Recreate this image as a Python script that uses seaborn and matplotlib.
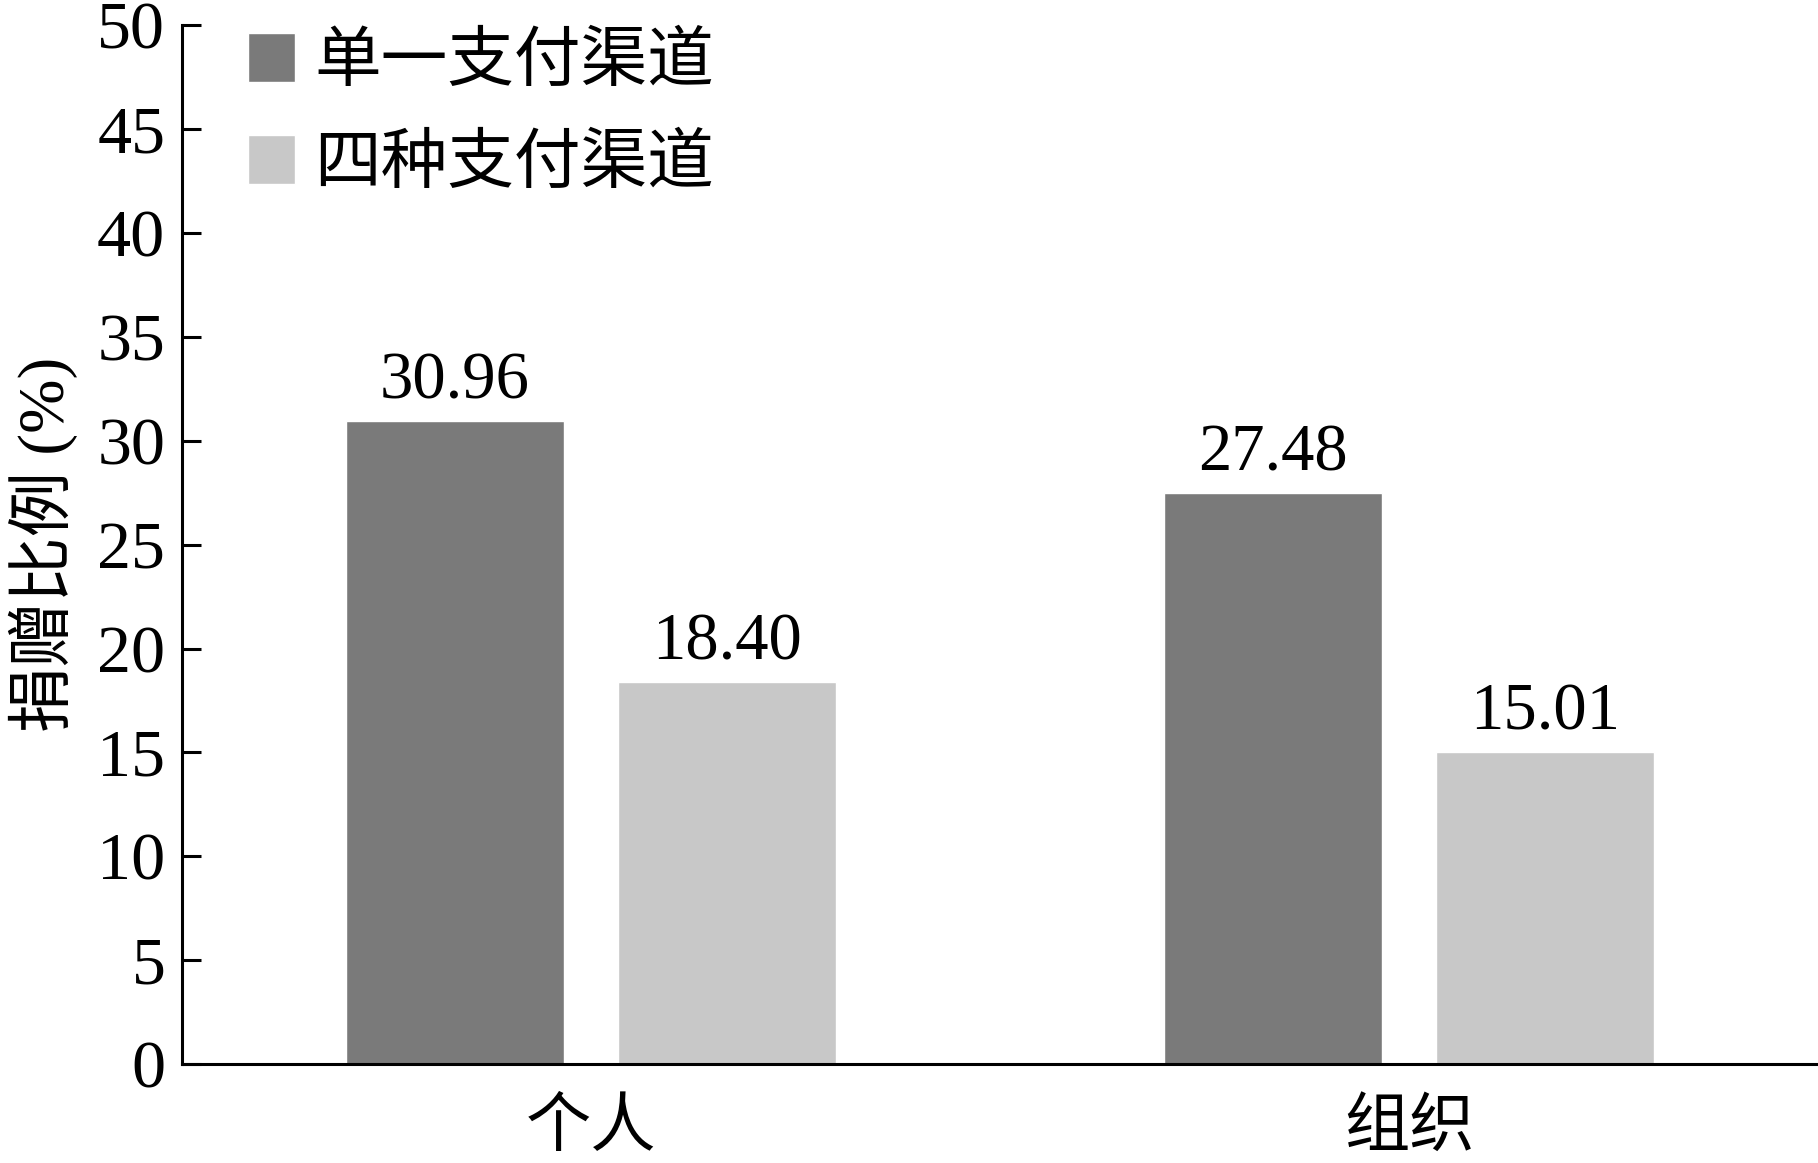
import matplotlib
matplotlib.use("Agg")
import matplotlib.pyplot as plt
import seaborn as sns
import pandas as pd

# data
categories = ["个人", "组织"]
series_names = ["单一支付渠道", "四种支付渠道"]
single_channel = [30.96, 27.48]
four_channel = [18.40, 15.01]
colors = ["#7a7a7a", "#c8c8c8"]

df = pd.DataFrame({
    "类别": categories * 2,
    "渠道": [series_names[0]] * 2 + [series_names[1]] * 2,
    "比例": single_channel + four_channel,
})

sns.set_theme(style="white")
plt.rcParams["font.family"] = ["Liberation Serif", "Noto Sans CJK SC"]
plt.rcParams["axes.unicode_minus"] = False
plt.rcParams["text.color"] = "black"
plt.rcParams["axes.labelcolor"] = "black"
plt.rcParams["xtick.color"] = "black"
plt.rcParams["ytick.color"] = "black"

fig = plt.figure(figsize=(18.18, 11.63), dpi=100)
ax = fig.add_axes([0.1001, 0.0851, 0.8999, 0.8930])

sns.barplot(data=df, x="类别", y="比例", hue="渠道", palette=colors,
            width=2 / 3, gap=0.2, saturation=1, ax=ax, errorbar=None)

for cont in ax.containers:
    ax.bar_label(cont, fmt="%.2f", padding=6, fontsize=48, color="black")

ax.set_xlim(-0.5, 1.5)
ax.set_ylim(0, 50)
ax.set_yticks(range(0, 51, 5))
ax.set_xlabel("")
ax.set_ylabel("捐赠比例 (%)", fontsize=47, labelpad=14)
ax.tick_params(axis="y", left=True, direction="in", length=14, width=2.2,
               labelsize=49, pad=12, color="black", labelcolor="black")
ax.tick_params(axis="x", bottom=False, length=0, labelsize=47, pad=22, labelcolor="black")
for lab in ax.get_xticklabels():
    lab.set_fontfamily(["Noto Sans CJK SC"])
sns.despine(ax=ax)
for side in ["left", "bottom"]:
    ax.spines[side].set_color("black")
    ax.spines[side].set_linewidth(2.2)

leg = ax.legend(loc="upper left", bbox_to_anchor=(0.024, 1.018), frameon=False,
                fontsize=48, handlelength=0.71, handleheight=0.75,
                handletextpad=0.28, labelspacing=0.6, borderaxespad=0.0)
for t in leg.get_texts():
    t.set_color("black")

fig.savefig("out.png", dpi=100)
